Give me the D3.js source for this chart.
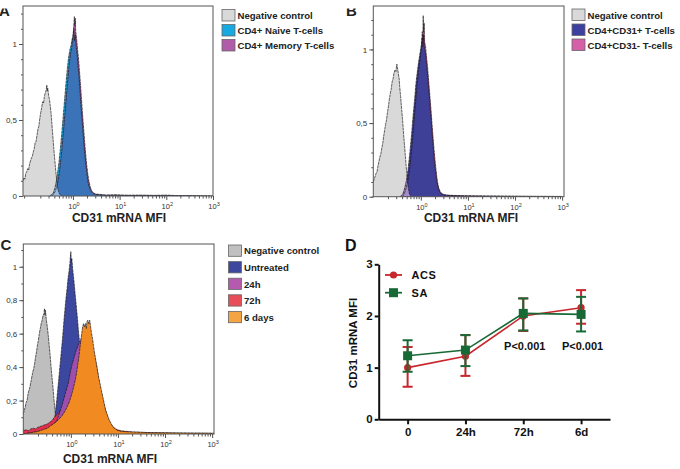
<!DOCTYPE html>
<html><head><meta charset="utf-8">
<script src="https://cdn.jsdelivr.net/npm/d3@7"></script>
<style>body{margin:0;background:#fff}svg{display:block}text{font-family:"Liberation Sans",Arial,sans-serif}</style>
</head><body><svg id="c" width="680" height="469"></svg>
<script>
// ---------- Panel A data: [log10(CD31 mRNA MFI), normalized count] ----------
const aNegative = [[-1.07,0.10],[-1.05,0.12],[-1.03,0.11],[-1.01,0.15],[-0.99,0.16],[-0.97,0.18],[-0.95,0.17],[-0.93,0.21],[-0.91,0.23],[-0.89,0.25],[-0.87,0.26],[-0.85,0.29],[-0.83,0.31],[-0.81,0.35],[-0.79,0.36],[-0.77,0.40],[-0.75,0.44],[-0.73,0.46],[-0.71,0.51],[-0.69,0.55],[-0.67,0.58],[-0.65,0.62],[-0.63,0.61],[-0.61,0.66],[-0.59,0.68],[-0.57,0.70],[-0.56,0.73],[-0.55,0.69],[-0.54,0.71],[-0.52,0.66],[-0.50,0.63],[-0.49,0.60],[-0.47,0.55],[-0.45,0.47],[-0.43,0.39],[-0.41,0.31],[-0.39,0.24],[-0.37,0.17],[-0.35,0.11],[-0.33,0.06],[-0.31,0.03],[-0.29,0.015],[-0.26,0.005],[-0.23,0]];
const aNaive = [[-0.50,0],[-0.45,0.01],[-0.42,0.02],[-0.39,0.05],[-0.36,0.09],[-0.33,0.15],[-0.30,0.22],[-0.27,0.31],[-0.24,0.41],[-0.21,0.52],[-0.18,0.63],[-0.15,0.74],[-0.12,0.84],[-0.09,0.92],[-0.06,0.97],[-0.04,0.99],[-0.02,1.03],[0.0,1.05],[0.02,1.10],[0.03,1.02],[0.05,1.06],[0.07,0.98],[0.09,0.93],[0.11,0.85],[0.13,0.78],[0.15,0.70],[0.17,0.60],[0.19,0.52],[0.21,0.44],[0.23,0.36],[0.25,0.29],[0.27,0.22],[0.29,0.17],[0.31,0.12],[0.33,0.08],[0.36,0.05],[0.39,0.03],[0.43,0.015],[0.5,0.01],[0.6,0.006],[0.8,0.004],[1.0,0.005],[1.3,0.003],[1.6,0.004],[2.0,0.002],[2.4,0.001],[3.0,0]];
const aMemory = [[-0.46,0],[-0.42,0.01],[-0.38,0.03],[-0.35,0.06],[-0.32,0.10],[-0.29,0.16],[-0.26,0.24],[-0.23,0.33],[-0.20,0.44],[-0.17,0.55],[-0.14,0.66],[-0.11,0.77],[-0.08,0.87],[-0.05,0.94],[-0.03,0.97],[-0.01,1.02],[0.01,1.08],[0.03,1.18],[0.04,1.12],[0.05,1.17],[0.06,1.08],[0.08,1.03],[0.10,0.96],[0.12,0.90],[0.14,0.82],[0.16,0.74],[0.18,0.65],[0.20,0.56],[0.22,0.48],[0.24,0.40],[0.26,0.32],[0.28,0.25],[0.30,0.19],[0.32,0.14],[0.34,0.10],[0.37,0.06],[0.40,0.035],[0.44,0.02],[0.5,0.012],[0.6,0.01],[0.7,0.006],[0.9,0.008],[1.1,0.005],[1.4,0.006],[1.7,0.004],[2.0,0.006],[2.2,0.003],[2.6,0.002],[3.0,0]];
const aLegend = ["Negative control","CD4+ Naive T-cells","CD4+ Memory T-cells"];

// ---------- Panel B data ----------
const bNegative = [[-1.01,0.10],[-0.99,0.12],[-0.97,0.14],[-0.95,0.16],[-0.93,0.17],[-0.91,0.21],[-0.89,0.24],[-0.87,0.27],[-0.85,0.29],[-0.83,0.33],[-0.81,0.36],[-0.79,0.41],[-0.77,0.45],[-0.75,0.49],[-0.73,0.52],[-0.71,0.57],[-0.69,0.61],[-0.67,0.66],[-0.65,0.70],[-0.63,0.73],[-0.61,0.78],[-0.59,0.80],[-0.57,0.84],[-0.55,0.86],[-0.53,0.85],[-0.51,0.90],[-0.50,0.88],[-0.48,0.84],[-0.46,0.80],[-0.45,0.75],[-0.43,0.68],[-0.41,0.60],[-0.39,0.53],[-0.37,0.44],[-0.35,0.36],[-0.33,0.28],[-0.31,0.20],[-0.29,0.13],[-0.27,0.07],[-0.25,0.03],[-0.23,0.01],[-0.20,0]];
const bCD31pos = [[-0.44,0],[-0.41,0.01],[-0.38,0.02],[-0.35,0.05],[-0.32,0.09],[-0.30,0.12],[-0.27,0.19],[-0.25,0.25],[-0.23,0.31],[-0.21,0.38],[-0.19,0.45],[-0.17,0.53],[-0.15,0.60],[-0.13,0.67],[-0.11,0.75],[-0.09,0.81],[-0.07,0.86],[-0.05,0.91],[-0.03,0.95],[-0.01,0.99],[0.01,1.03],[0.03,1.08],[0.04,1.02],[0.06,1.10],[0.08,1.00],[0.10,0.97],[0.12,0.90],[0.14,0.84],[0.16,0.76],[0.18,0.68],[0.20,0.60],[0.22,0.52],[0.24,0.43],[0.26,0.35],[0.28,0.27],[0.30,0.20],[0.32,0.15],[0.34,0.10],[0.36,0.07],[0.39,0.04],[0.43,0.02],[0.5,0.012],[0.6,0.008],[0.8,0.006],[1.0,0.005],[1.3,0.004],[1.7,0.003],[2.2,0.002],[3.0,0.001]];
const bCD31neg = [[-0.40,0],[-0.37,0.01],[-0.34,0.03],[-0.31,0.06],[-0.28,0.10],[-0.25,0.16],[-0.23,0.21],[-0.21,0.27],[-0.19,0.34],[-0.17,0.41],[-0.15,0.49],[-0.13,0.57],[-0.11,0.65],[-0.09,0.72],[-0.07,0.79],[-0.05,0.85],[-0.03,0.90],[-0.01,0.96],[0.01,1.00],[0.03,1.12],[0.04,1.06],[0.05,1.23],[0.06,1.12],[0.07,1.18],[0.08,1.05],[0.10,1.02],[0.12,0.95],[0.14,0.89],[0.16,0.81],[0.18,0.73],[0.20,0.65],[0.22,0.57],[0.24,0.48],[0.26,0.40],[0.28,0.32],[0.30,0.25],[0.32,0.19],[0.34,0.13],[0.36,0.09],[0.38,0.06],[0.41,0.035],[0.45,0.02],[0.5,0.014],[0.6,0.01],[0.75,0.008],[0.9,0.007],[1.1,0.006],[1.4,0.005],[1.8,0.004],[2.3,0.003],[3.0,0.002]];
const bLegend = ["Negative control","CD4+CD31+ T-cells","CD4+CD31- T-cells"];

// ---------- Panel C data ----------
const cNegative = [[-1.01,0.12],[-0.99,0.14],[-0.97,0.16],[-0.95,0.19],[-0.93,0.20],[-0.91,0.24],[-0.89,0.26],[-0.87,0.28],[-0.85,0.31],[-0.83,0.34],[-0.81,0.37],[-0.79,0.39],[-0.77,0.42],[-0.75,0.46],[-0.73,0.49],[-0.71,0.53],[-0.69,0.56],[-0.67,0.60],[-0.65,0.63],[-0.63,0.66],[-0.61,0.68],[-0.59,0.71],[-0.57,0.72],[-0.56,0.75],[-0.55,0.71],[-0.54,0.74],[-0.52,0.68],[-0.50,0.64],[-0.48,0.59],[-0.46,0.53],[-0.44,0.47],[-0.42,0.40],[-0.40,0.34],[-0.38,0.28],[-0.36,0.21],[-0.34,0.15],[-0.32,0.11],[-0.30,0.07],[-0.28,0.04],[-0.26,0.02],[-0.23,0.005],[-0.20,0]];
const cUntreated = [[-0.48,0],[-0.44,0.02],[-0.40,0.04],[-0.37,0.06],[-0.34,0.10],[-0.32,0.15],[-0.30,0.20],[-0.28,0.26],[-0.26,0.32],[-0.24,0.38],[-0.22,0.44],[-0.20,0.50],[-0.18,0.56],[-0.16,0.63],[-0.14,0.70],[-0.12,0.76],[-0.10,0.82],[-0.08,0.87],[-0.06,0.93],[-0.04,0.97],[-0.02,1.02],[-0.01,1.06],[0.0,1.09],[0.01,1.03],[0.02,1.05],[0.04,0.98],[0.06,0.93],[0.08,0.87],[0.10,0.81],[0.12,0.75],[0.14,0.69],[0.16,0.62],[0.18,0.56],[0.20,0.50],[0.23,0.42],[0.26,0.34],[0.29,0.26],[0.32,0.19],[0.35,0.13],[0.39,0.08],[0.44,0.04],[0.50,0.02],[0.6,0.01],[0.8,0.005],[1.0,0]];
const c24h = [[-1.01,0.0],[-0.8,0.01],[-0.6,0.02],[-0.5,0.03],[-0.4,0.05],[-0.34,0.065],[-0.3,0.08],[-0.25,0.12],[-0.2,0.16],[-0.15,0.21],[-0.1,0.26],[-0.05,0.31],[-0.02,0.36],[0.02,0.41],[0.06,0.45],[0.10,0.49],[0.14,0.52],[0.18,0.55],[0.22,0.57],[0.28,0.59],[0.32,0.59],[0.36,0.57],[0.40,0.54],[0.44,0.50],[0.48,0.45],[0.52,0.39],[0.56,0.33],[0.60,0.27],[0.65,0.20],[0.70,0.15],[0.75,0.10],[0.80,0.07],[0.86,0.04],[0.93,0.025],[1.0,0.015],[1.3,0.008],[1.8,0.005],[2.4,0.003],[3.04,0.002]];
const c72h = [[-1.01,0.02],[-0.95,0.025],[-0.9,0.02],[-0.85,0.03],[-0.8,0.035],[-0.75,0.03],[-0.7,0.04],[-0.65,0.045],[-0.6,0.05],[-0.55,0.055],[-0.5,0.06],[-0.45,0.07],[-0.4,0.08],[-0.35,0.10],[-0.3,0.115],[-0.25,0.13],[-0.2,0.15],[-0.15,0.17],[-0.1,0.19],[-0.05,0.22],[0.0,0.26],[0.05,0.30],[0.1,0.35],[0.15,0.40],[0.2,0.45],[0.25,0.50],[0.3,0.54],[0.35,0.56],[0.40,0.56],[0.45,0.53],[0.5,0.47],[0.55,0.40],[0.6,0.31],[0.65,0.24],[0.7,0.18],[0.75,0.13],[0.8,0.085],[0.87,0.05],[0.95,0.03],[1.05,0.02],[1.3,0.012],[1.7,0.008],[2.2,0.006],[2.7,0.005],[3.04,0.004]];
const c6days = [[-1.01,0],[-0.9,0.005],[-0.8,0.01],[-0.7,0.015],[-0.6,0.025],[-0.5,0.035],[-0.45,0.045],[-0.4,0.055],[-0.35,0.065],[-0.3,0.075],[-0.25,0.09],[-0.2,0.105],[-0.15,0.125],[-0.1,0.15],[-0.05,0.18],[0.0,0.22],[0.05,0.27],[0.10,0.33],[0.14,0.40],[0.17,0.46],[0.20,0.53],[0.23,0.60],[0.25,0.64],[0.27,0.66],[0.29,0.64],[0.31,0.66],[0.33,0.63],[0.34,0.67],[0.36,0.68],[0.38,0.66],[0.40,0.68],[0.42,0.64],[0.44,0.60],[0.46,0.57],[0.48,0.53],[0.50,0.49],[0.53,0.44],[0.56,0.39],[0.59,0.34],[0.62,0.30],[0.65,0.26],[0.68,0.22],[0.71,0.18],[0.74,0.14],[0.78,0.11],[0.82,0.08],[0.86,0.06],[0.90,0.04],[0.95,0.03],[1.0,0.02],[1.1,0.015],[1.3,0.012],[1.5,0.01],[1.7,0.008],[2.0,0.007],[2.3,0.006],[2.6,0.005],[2.9,0.005],[3.04,0.004]];
const cLegend = ["Negative control","Untreated","24h","72h","6 days"];

// ---------- Panel D data ----------
const dCategories = ["0","24h","72h","6d"];
const acsMean = [1.00,1.22,2.00,2.16];
const acsLow  = [0.63,0.84,1.71,1.85];
const acsHigh = [1.40,1.63,2.34,2.50];
const saMean  = [1.23,1.34,2.05,2.03];
const saLow   = [0.92,1.03,1.72,1.70];
const saHigh  = [1.53,1.63,2.34,2.37];
const pLabels = [null,null,"P<0.001","P<0.001"];
const dYTicks = [0,1,2,3];

const histXLabels = [0,1,2,3];

const svg = d3.select("#c");
let clipId = 0;
function histPanel(o){
  const g = svg.append("g");
  const x = d3.scaleLinear().domain(o.xd).range(o.xr);
  const y = d3.scaleLinear().domain(o.yd).range(o.yr);
  const area = d3.area().x(d=>x(d[0])).y0(y(0)).y1(d=>y(d[1]));
  const line = d3.line().x(d=>x(d[0])).y(d=>y(d[1]));
  const fid = "f"+(clipId++);
  g.append("clipPath").attr("id",fid).append("rect")
    .attr("x",o.xr[0]).attr("y",o.yr[1]).attr("width",o.xr[1]-o.xr[0]).attr("height",o.yr[0]-o.yr[1]);
  const pg = g.append("g").attr("clip-path",`url(#${fid})`);
  const drawOutline = (d)=>pg.append("path").attr("d",line(d)).attr("fill","none").attr("stroke","#1e1a1a")
      .attr("stroke-width",0.8).attr("stroke-opacity",0.85).attr("stroke-dasharray","3,0.6");
  o.layers.forEach(L=>{
    let target = pg;
    if(L.clip){
      const cid = "k"+(clipId++);
      g.append("clipPath").attr("id",cid).append("path").attr("d",area(L.clip));
      target = pg.append("g").attr("clip-path",`url(#${cid})`);
    }
    target.append("path").attr("d",area(L.data)).attr("fill",L.fill).attr("fill-opacity",L.op||1);
    if(L.outline) drawOutline(L.data);
  });
  (o.outlines||[]).forEach(drawOutline);
  // axes
  const minor=[];
  for(let k=-2;k<=3;k++) for(let m=2;m<=9;m++){const v=k+Math.log10(m); if(v>=o.xd[0]&&v<=o.xd[1]) minor.push(v);}
  const ax1 = g.append("g").attr("transform",`translate(0,${o.yr[0]})`)
    .call(d3.axisBottom(x).tickValues(minor).tickSize(2.5).tickFormat(""));
  const ax2 = g.append("g").attr("transform",`translate(0,${o.yr[0]})`)
    .call(d3.axisBottom(x).tickValues(histXLabels).tickSize(4).tickFormat(""));
  const ymin = d3.range(0, o.yd[1]+1e-9, 0.1);
  const ay1 = g.append("g").attr("transform",`translate(${o.xr[0]},0)`)
    .call(d3.axisLeft(y).tickValues(ymin).tickSize(2).tickFormat(""));
  const ay2 = g.append("g").attr("transform",`translate(${o.xr[0]},0)`)
    .call(d3.axisLeft(y).tickValues(o.yTicks).tickSize(4).tickPadding(2).tickFormat(d=>String(d).replace(".",",")));
  [ax1,ax2,ay1,ay2].forEach(a=>{a.select(".domain").remove(); a.selectAll("line").attr("stroke","#555");});
  ay2.selectAll("text").attr("font-size",8).attr("fill","#333").attr("font-family","Liberation Sans, Arial, sans-serif");
  histXLabels.forEach(k=>{
    const t = g.append("text").attr("x",x(k)+1).attr("y",o.yr[0]+13).attr("text-anchor","middle")
      .attr("font-size",7.5).attr("fill","#333").text("10");
    t.append("tspan").attr("dy",-3).attr("font-size",5.5).text(k);
  });
  g.append("rect").attr("x",o.xr[0]).attr("y",o.yr[1]).attr("width",o.xr[1]-o.xr[0]).attr("height",o.yr[0]-o.yr[1])
    .attr("fill","none").attr("stroke","#555").attr("stroke-width",1);
  g.append("text").attr("x",o.titleX).attr("y",o.titleY).attr("text-anchor","middle")
    .attr("font-size",12).attr("font-weight","bold").attr("fill","#222").text("CD31 mRNA MFI");
  // legend
  o.legend.forEach((name,i)=>{
    const yy = o.legY + i*o.legDy;
    g.append("rect").attr("x",o.legX).attr("y",yy).attr("width",13).attr("height",o.legH)
      .attr("fill",o.legColors[i]).attr("stroke","#666").attr("stroke-width",0.8);
    g.append("text").attr("x",o.legX+15.5).attr("y",yy+o.legH-2).attr("font-size",9.6)
      .attr("font-weight","bold").attr("fill","#222").text(name);
  });
}

// Panel A
histPanel({xd:[-1.07,3.0], xr:[23,213], yd:[0,1.25], yr:[196,6], yTicks:[0,0.5,1],
  layers:[
    {data:aNegative, fill:"#d9d9d9"},
    {data:aNaive, fill:"#17a9e0"},
    {data:aMemory, fill:"#a8539f"},
    {data:aNaive, fill:"#3b73b8", clip:aMemory},
    {data:aNaive, fill:"#98b8df", clip:aNegative}
  ],
  outlines:[aNegative,aNaive,aMemory],
  titleX:119, titleY:222, legend:aLegend, legColors:["#d9d9d9","#17a9e0","#b05ca8"],
  legX:222, legY:9.5, legDy:15, legH:11.5});

// Panel B
histPanel({xd:[-1.01,3.04], xr:[373.3,564], yd:[0,1.295], yr:[196.7,6], yTicks:[0,0.5,1],
  layers:[
    {data:bNegative, fill:"#d9d9d9"},
    {data:bCD31neg, fill:"#cc4c9f"},
    {data:bCD31pos, fill:"#3e3f97"},
    {data:bCD31pos, fill:"#a48ec9", clip:bNegative}
  ],
  outlines:[bNegative,bCD31pos,bCD31neg],
  titleX:471, titleY:222, legend:bLegend, legColors:["#d9d9d9","#3e40a0","#d660a8"],
  legX:572, legY:9, legDy:15, legH:11.5});

// Panel C (each outline drawn with its own layer so later fills hide it)
histPanel({xd:[-1.01,3.04], xr:[23.3,214], yd:[0,1.136], yr:[434,244], yTicks:[0,0.2,0.4,0.6,0.8,1],
  layers:[
    {data:cNegative, fill:"#bebebe", outline:true},
    {data:cUntreated, fill:"#3c479f", outline:true},
    {data:c72h, fill:"#de2f4e", outline:true},
    {data:c24h, fill:"#9e4fae", outline:true},
    {data:c6days, fill:"#f28a22", outline:true}
  ],
  titleX:110, titleY:463, legend:cLegend, legColors:["#c0c0c0","#3d479d","#b65ab0","#e84d5a","#f5a443"],
  legX:228.5, legY:245, legDy:16.6, legH:11.3});

// Panel labels (partly cropped in original)
[["A",-1,16],["B",346,16],["C",0.5,250]].forEach(([t,x,y])=>{
  svg.append("text").attr("x",x).attr("y",y).attr("font-size",15).attr("font-weight","bold").attr("fill","#222").text(t);
});
svg.append("rect").attr("x",0).attr("y",0).attr("width",20).attr("height",8.5).attr("fill","#fff");
svg.append("rect").attr("x",340).attr("y",0).attr("width",30).attr("height",8.5).attr("fill","#fff");
svg.append("text").attr("x",345).attr("y",251).attr("font-size",16).attr("font-weight","bold").attr("fill","#111").text("D");

// Panel D
const dg = svg.append("g");
const dx = d3.scalePoint().domain(dCategories).range([378.7,610]).padding(0.5);
const dy = d3.scaleLinear().domain([0,3]).range([419.3,264.3]);
const yAx = dg.append("g").attr("transform","translate(378.7,0)")
  .call(d3.axisLeft(dy).tickValues(dYTicks).tickSize(4).tickSizeOuter(0).tickPadding(2).tickFormat(d3.format("d")));
const xAx = dg.append("g").attr("transform","translate(0,419.3)")
  .call(d3.axisBottom(dx).tickSize(5).tickSizeOuter(0).tickPadding(4));
[yAx,xAx].forEach(a=>{
  a.select(".domain").attr("stroke","#111").attr("stroke-width",2);
  a.selectAll("line").attr("stroke","#111").attr("stroke-width",2);
  a.selectAll("text").attr("font-size",11.5).attr("font-weight","bold").attr("fill","#111")
    .attr("font-family","Liberation Sans, Arial, sans-serif");
});
dg.append("text").attr("transform","translate(357,343) rotate(-90)").attr("text-anchor","middle")
  .attr("font-size",11.5).attr("font-weight","bold").attr("fill","#111").text("CD31 mRNA MFI");

function series(mean,lo,hi,color,shape){
  const s = dg.append("g");
  dCategories.forEach((c,i)=>{
    const X = dx(c);
    s.append("line").attr("x1",X).attr("x2",X).attr("y1",dy(lo[i])).attr("y2",dy(hi[i])).attr("stroke",color).attr("stroke-width",2);
    [lo[i],hi[i]].forEach(v=>s.append("line").attr("x1",X-5).attr("x2",X+5).attr("y1",dy(v)).attr("y2",dy(v)).attr("stroke",color).attr("stroke-width",2));
  });
  s.append("path").attr("d",d3.line().x((d,i)=>dx(dCategories[i])).y(d=>dy(d))(mean))
    .attr("fill","none").attr("stroke",color).attr("stroke-width",1.6);
  mean.forEach((v,i)=>{
    if(shape==="circle") s.append("circle").attr("cx",dx(dCategories[i])).attr("cy",dy(v)).attr("r",3.6).attr("fill",color);
    else s.append("rect").attr("x",dx(dCategories[i])-4.5).attr("y",dy(v)-4.5).attr("width",9).attr("height",9).attr("fill",color);
  });
}
series(acsMean,acsLow,acsHigh,"#c8262c","circle");
series(saMean,saLow,saHigh,"#176a36","square");

pLabels.forEach((p,i)=>{
  if(p) dg.append("text").attr("x",dx(dCategories[i])+1.5).attr("y",349.5).attr("text-anchor","middle")
    .attr("font-size",11).attr("font-weight","bold").attr("fill","#111").text(p);
});
// legend D
[["ACS","#c8262c","circle",275],["SA","#176a36","square",292.7]].forEach(([n,c,s,y])=>{
  dg.append("line").attr("x1",385).attr("x2",402).attr("y1",y).attr("y2",y).attr("stroke",c).attr("stroke-width",1.8);
  if(s==="circle") dg.append("circle").attr("cx",393.5).attr("cy",y).attr("r",3.6).attr("fill",c);
  else dg.append("rect").attr("x",389).attr("y",y-4.5).attr("width",9).attr("height",9).attr("fill",c);
  dg.append("text").attr("x",411.5).attr("y",y+4).attr("font-size",11).attr("font-weight","bold")
    .attr("letter-spacing",0.6).attr("fill","#111").text(n);
});
</script></body></html>
